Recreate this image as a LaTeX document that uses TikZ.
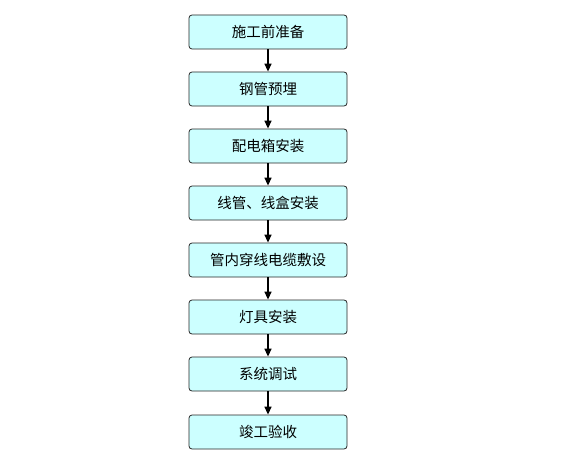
\documentclass[tikz,border=0pt]{standalone}
\usepackage{fontspec}
\newfontfamily\cjk{Noto Sans CJK SC}
\usepackage{tikz}
\usetikzlibrary{arrows.meta}
\definecolor{boxcyan}{HTML}{CCFFFF}

\begin{document}
\begin{tikzpicture}[x=1pt, y=-1pt,
	stepbox/.style={draw=black!85, fill=boxcyan, rounded corners=3pt, line width=0.8pt,
		minimum width=158pt, minimum height=34pt, inner sep=0pt, font=\cjk\fontsize{14.5}{15}\selectfont},
	flow/.style={line width=1.4pt, arrows={-Triangle[length=8pt,width=7pt]}}]
	\useasboundingbox (0,0) rectangle (584,452);
	\node[stepbox] (prep) at (268,32) {施工前准备};
	\node[stepbox] (pipe) at (268,89) {钢管预埋};
	\node[stepbox] (box) at (268,146) {配电箱安装};
	\node[stepbox] (wire) at (268,203) {线管、线盒安装};
	\node[stepbox] (cable) at (268,260) {管内穿线电缆敷设};
	\node[stepbox] (lamp) at (268,317) {灯具安装};
	\node[stepbox] (test) at (268,374) {系统调试};
	\node[stepbox] (accept) at (268,432) {竣工验收};
	\draw[flow] (prep) -- (pipe);
	\draw[flow] (pipe) -- (box);
	\draw[flow] (box) -- (wire);
	\draw[flow] (wire) -- (cable);
	\draw[flow] (cable) -- (lamp);
	\draw[flow] (lamp) -- (test);
	\draw[flow] (test) -- (accept);
\end{tikzpicture}
\end{document}
